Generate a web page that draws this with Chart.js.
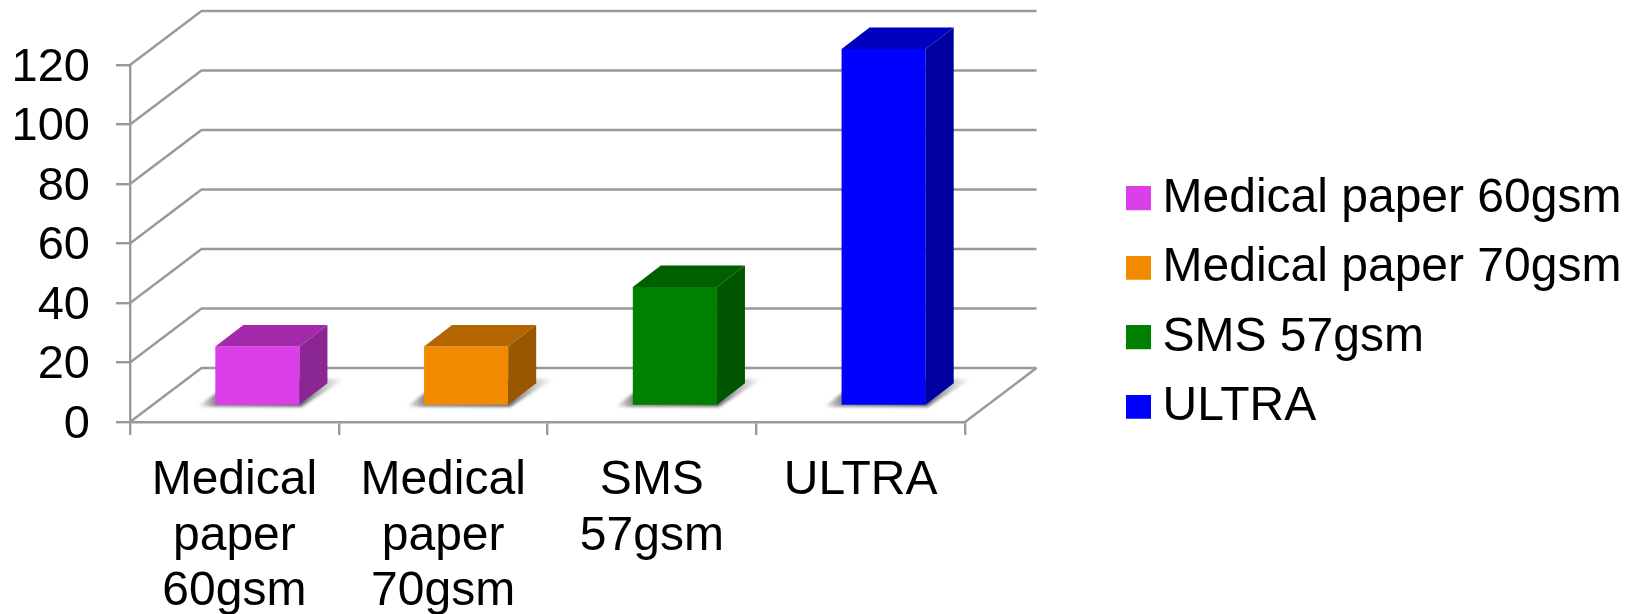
<!DOCTYPE html>
<html>
<head>
<meta charset="utf-8">
<style>html,body{margin:0;padding:0;background:#fff}canvas{display:block}</style>
<script src="https://cdn.jsdelivr.net/npm/chart.js@4"></script>
</head>
<body>
<canvas id="c" width="1639" height="614"></canvas>
<script>
const categories = [['Medical','paper','60gsm'],['Medical','paper','70gsm'],['SMS','57gsm'],['ULTRA']];
const legendNames = ['Medical paper 60gsm','Medical paper 70gsm','SMS 57gsm','ULTRA'];
const values = [20,20,40,120];
const yTicks = [0,20,40,60,80,100,120];
const frontColors = ['#DB3FE8','#F28A00','#008000','#0000FF'];
const topColors = ['#A529AC','#B36600','#006000','#0000C0'];
const sideColors = ['#8A2794','#995700','#005500','#0000A0'];

const GRID = '#999999';
const GRID_WIDTH = 2.4;
const FAMILY = '"Liberation Sans", Arial, sans-serif';
const FONT = {family:FAMILY, size:48};
const WALL = {dx:71.5, dy:-54};
const BAR_OFFSET = {dx:23, dy:-16};
const BAR_DEPTH = {dx:28, dy:-21.5};
const Y_LABEL_SHIFT = 3;

function swatch(color){
  const s=document.createElement('canvas'); s.width=25; s.height=25;
  const g=s.getContext('2d'); g.fillStyle=color; g.fillRect(0,0,25,24);
  return s;
}
function poly(ctx,pts,fill){
  ctx.beginPath(); pts.forEach((p,i)=>i?ctx.lineTo(p[0],p[1]):ctx.moveTo(p[0],p[1]));
  ctx.closePath(); ctx.fillStyle=fill; ctx.fill();
}
const box3d = {
  id:'box3d',
  afterLayout(chart){
    const l=chart.legend;
    l.left=1116; l.width=523; l.right=1639; l.top=0; l.height=606; l.bottom=606;
    l.adjustHitBoxes && l.adjustHitBoxes();
  },
  beforeDatasetsDraw(chart){
    const {ctx,chartArea:a,scales:{y}}=chart;
    ctx.save();
    ctx.strokeStyle=GRID; ctx.lineWidth=GRID_WIDTH; ctx.lineJoin='round';
    yTicks.forEach(v=>{
      const py=y.getPixelForValue(v);
      ctx.beginPath();
      ctx.moveTo(a.left,py);
      ctx.lineTo(a.left+WALL.dx,py+WALL.dy);
      ctx.lineTo(a.right+WALL.dx,py+WALL.dy);
      ctx.stroke();
    });
    const by=y.getPixelForValue(0);
    ctx.beginPath(); ctx.moveTo(a.right,by); ctx.lineTo(a.right+WALL.dx,by+WALL.dy); ctx.stroke();
    ctx.restore();
    ctx.save();
    ctx.translate(BAR_OFFSET.dx,BAR_OFFSET.dy);
    chart.getDatasetMeta(0).data.forEach(b=>{
      const {x,base,width}=b.getProps(['x','base','width'],true);
      const L=x-width/2,R=x+width/2;
      const x0=L-18,x1=R+46;
      const g=ctx.createLinearGradient(x0,0,x1,0);
      const f=v=>(v-x0)/(x1-x0);
      g.addColorStop(0,'rgba(110,110,110,0)');
      g.addColorStop(f(L),'rgba(110,110,110,.8)');
      g.addColorStop(f(R),'rgba(80,80,80,.9)');
      g.addColorStop(1,'rgba(140,140,140,0)');
      ctx.save();
      ctx.filter='blur(1.5px)';
      poly(ctx,[[x0,base+2],[R+2,base+2],[x1,base-26],[L+20,base-26]],g);
      ctx.restore();
    });
  },
  afterDatasetsDraw(chart){
    const {ctx}=chart;
    chart.getDatasetMeta(0).data.forEach((b,i)=>{
      const {x,y,base,width}=b.getProps(['x','y','base','width'],true);
      const L=x-width/2,R=x+width/2,dx=BAR_DEPTH.dx,dy=BAR_DEPTH.dy;
      poly(ctx,[[L,y],[R,y],[R+dx,y+dy],[L+dx,y+dy]],topColors[i]);
      poly(ctx,[[R,y],[R+dx,y+dy],[R+dx,base+dy],[R,base]],sideColors[i]);
    });
    ctx.restore();
  }
};

new Chart(document.getElementById('c'),{
  type:'bar',
  data:{labels:categories,datasets:[{data:values,backgroundColor:frontColors,borderWidth:0,categoryPercentage:1,barPercentage:0.403}]},
  plugins:[box3d],
  options:{
    responsive:false,animation:false,
    layout:{padding:{top:65,left:0,right:674,bottom:0}},
    plugins:{
      tooltip:{enabled:false},
      legend:{
        display:true,position:'chartArea',align:'center',
        labels:{
          font:FONT,color:'#000',padding:21.5,usePointStyle:true,boxWidth:1,
          generateLabels:()=>legendNames.map((t,i)=>({text:t,fillStyle:frontColors[i],strokeStyle:frontColors[i],lineWidth:0,pointStyle:swatch(frontColors[i]),index:i,fontColor:'#000'}))
        }
      }
    },
    scales:{
      x:{
        grid:{display:true,drawOnChartArea:false,color:GRID,tickColor:GRID,lineWidth:GRID_WIDTH,tickLength:13,offset:true},
        border:{color:GRID,width:GRID_WIDTH},
        ticks:{font:{...FONT,lineHeight:1.157},color:'#000',maxRotation:0,minRotation:0,autoSkip:false,padding:18},
        afterFit(s){s.height=192;}
      },
      y:{
        min:0,max:120,
        afterBuildTicks(s){s.ticks=yTicks.map(v=>({value:v}));},
        grid:{display:true,drawOnChartArea:false,color:GRID,tickColor:GRID,lineWidth:GRID_WIDTH,tickLength:14},
        border:{color:GRID,width:GRID_WIDTH},
        ticks:{font:{family:FAMILY,size:47},color:'#000',padding:26,autoSkip:false},
        afterFit(s){
          s.width=130;
          if(!s._shifted){
            s._shifted=true;
            const orig=s._computeLabelItems;
            s._computeLabelItems=function(a){
              return orig.call(this,a).map(it=>{it.options.translation=[it.options.translation[0],it.options.translation[1]+Y_LABEL_SHIFT];return it;});
            };
          }
        }
      }
    }
  }
});
</script>
</body>
</html>
